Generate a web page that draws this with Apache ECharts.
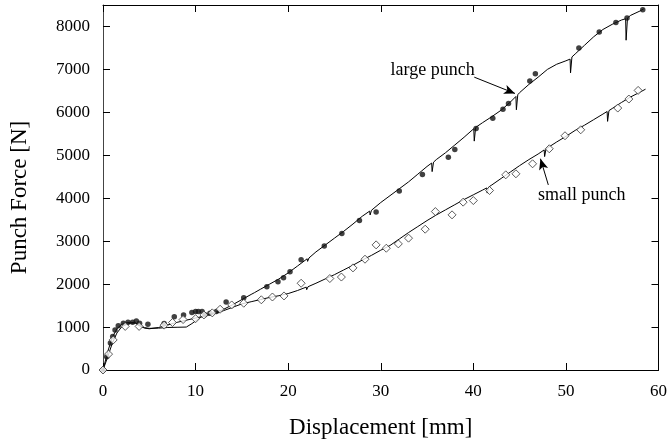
<!DOCTYPE html>
<html>
<head>
<meta charset="utf-8">
<script src="https://cdn.jsdelivr.net/npm/echarts@6/dist/echarts.min.js"></script>
<style>
    html, body { margin: 0; padding: 0; background: #fff; }
    #chart { width: 670px; height: 445px; }
</style>
</head>
<body>
<div id="chart"></div>
<script>
// measured points (test), [displacement mm, force N]
const largeTest = [
    [0, 0], [0.4, 310], [0.8, 630], [1.05, 780], [1.3, 930], [1.65, 1030], [2.2, 1090], [2.7, 1110],
    [3.2, 1110], [3.6, 1140], [3.95, 1090], [4.85, 1065], [6.6, 1085], [7.7, 1240], [8.7, 1280],
    [9.6, 1340], [10.0, 1360], [10.3, 1360], [10.7, 1360], [11.0, 1285], [11.55, 1320], [12.25, 1360],
    [13.3, 1585], [15.2, 1680], [17.7, 1940], [18.9, 2055], [19.5, 2150], [20.2, 2290], [21.4, 2565],
    [23.9, 2890], [25.8, 3180], [27.7, 3480], [29.5, 3680], [32.0, 4170], [34.5, 4555], [37.3, 4955],
    [38.0, 5135], [40.3, 5625], [42.1, 5860], [43.2, 6070], [43.8, 6205], [46.1, 6730], [46.7, 6900],
    [51.4, 7500], [53.6, 7870], [55.4, 8095], [56.6, 8195], [58.3, 8390]
]

const smallTest = [
    [0, 0], [0.6, 370], [1.1, 700], [2.4, 1015], [3.9, 1015], [6.6, 1045], [7.5, 1105], [8.65, 1175],
    [10.0, 1195], [10.9, 1282], [11.8, 1330], [12.65, 1415], [13.9, 1515], [15.2, 1555], [17.1, 1635],
    [18.3, 1700], [19.55, 1725], [21.4, 2020], [24.5, 2130], [25.75, 2165], [27.0, 2378], [28.3, 2580],
    [29.5, 2914], [30.6, 2836], [31.9, 2937], [33.0, 3070], [34.8, 3279], [35.9, 3690], [37.7, 3613],
    [38.9, 3909], [40.0, 3946], [41.75, 4180], [43.5, 4545], [44.6, 4569], [46.4, 4802], [48.2, 5152],
    [49.9, 5455], [51.6, 5594], [55.6, 6100], [56.8, 6310], [57.8, 6511]
]

// simulation curves
const largeSim = [
    [0, 0], [0.5, 420], [1, 760], [1.5, 960], [2, 1060], [2.5, 1100], [3, 1110], [3.5, 1100], [4, 1030],
    [4.5, 985], [5, 970], [6, 975], [7, 990], [8, 995], [9, 1000], [9.6, 1080], [10.5, 1220], [11, 1280],
    [12, 1330], [13, 1410], [14, 1520], [15, 1640], [16, 1760], [16.35, 1800], [16.4, 1760], [16.55, 1820],
    [17, 1880], [18, 2000], [19, 2120], [20, 2260], [21, 2420], [22.05, 2590], [22.1, 2530], [22.25, 2610],
    [23, 2750], [24, 2910], [25, 3070], [26, 3230], [27, 3400], [28, 3580], [28.8, 3700], [28.85, 3610],
    [29, 3720], [30, 3900], [31, 4060], [32, 4220], [33, 4380], [34, 4560], [35, 4740], [35.5, 4820],
    [35.55, 4620], [35.7, 4840], [36, 4900], [37, 5060], [38, 5240], [39, 5420], [40.05, 5620],
    [40.1, 5330], [40.25, 5650], [41, 5760], [42, 5900], [43, 6050], [44, 6240], [44.6, 6370],
    [44.65, 6060], [44.8, 6410], [45, 6460], [46, 6650], [47, 6820], [48, 7000], [49, 7120], [50, 7200],
    [50.45, 7240], [50.5, 6920], [50.65, 7290], [51, 7360], [52, 7560], [53, 7760], [54, 7930],
    [55, 8050], [56, 8150], [56.45, 8180], [56.5, 7680], [56.65, 8200], [57, 8260], [58, 8360], [58.4, 8410]
]

const smallSim = [
    [0, 0], [0.5, 300], [1, 620], [1.5, 860], [2, 1000], [2.5, 1060], [3, 1090], [3.5, 1090], [4, 1020],
    [4.5, 975], [5, 960], [6, 990], [7, 1050], [8, 1110], [9, 1160], [10, 1210], [11, 1260], [12, 1310],
    [13, 1380], [14, 1460], [15, 1540], [16, 1590], [17, 1640], [18, 1690], [19, 1730], [20, 1780],
    [21, 1850], [21.95, 1930], [22.0, 1870], [22.15, 1940], [23, 2020], [24, 2120], [25, 2220],
    [26, 2330], [27, 2440], [28, 2560], [29, 2670], [30, 2790], [31, 2900], [32, 3050], [33, 3200],
    [34, 3340], [35, 3480], [36, 3610], [37, 3730], [38, 3850], [39, 3970], [40, 4080], [41, 4190],
    [41.45, 4240], [41.5, 4120], [41.65, 4260], [42, 4310], [43, 4460], [44, 4610], [45, 4760],
    [46, 4900], [47, 5030], [47.65, 5125], [47.7, 4970], [47.85, 5150], [48, 5170], [49, 5310],
    [50, 5440], [51, 5580], [52, 5700], [53, 5830], [54, 5960], [54.45, 6020], [54.5, 5790],
    [54.65, 6040], [55, 6090], [56, 6230], [57, 6360], [58, 6470], [58.6, 6540]
]

// annotation anchors in data units
const largeLabelAt = [35.6, 6990]
const largeArrow = [[40.1, 6820], [44.5, 6440]]
const smallLabelAt = [51.7, 4060]
const smallArrow = [[48.1, 4310], [47.25, 4920]]

const serif = '"Liberation Serif", "DejaVu Serif", serif'

const chart = echarts.init(document.getElementById('chart'))

function annotation(text, at, arrow) {
    return {
        markPoint: {
            silent: true,
            symbol: 'circle',
            symbolSize: 0,
            label: {
                show: true,
                position: 'inside',
                formatter: text,
                fontFamily: serif,
                fontSize: 18,
                color: '#000'
            },
            data: [{ coord: at }]
        },
        markLine: {
            silent: true,
            symbol: ['none', 'arrow'],
            symbolSize: [7, 11],
            label: { show: false },
            lineStyle: { color: '#000', width: 1, type: 'solid' },
            data: [[{ coord: arrow[0] }, { coord: arrow[1] }]]
        }
    }
}

const axisLabelStyle = { fontFamily: serif, fontSize: 17, color: '#000', formatter: v => String(v) }

const option = {
    animation: false,
    backgroundColor: '#fff',
    grid: { left: 101, right: 6, top: 5, bottom: 75 },
    xAxis: [
        {
            type: 'value',
            min: 0,
            max: 60,
            interval: 10,
            name: 'Displacement [mm]',
            nameLocation: 'middle',
            nameGap: 46,
            nameTextStyle: { fontFamily: serif, fontSize: 23, color: '#000' },
            axisLine: { show: true, onZero: false, lineStyle: { color: '#000', width: 1 } },
            axisTick: { inside: true, length: 7, lineStyle: { color: '#000' } },
            axisLabel: Object.assign({ margin: 13 }, axisLabelStyle),
            splitLine: { show: false }
        },
        {
            type: 'value',
            position: 'top',
            min: 0,
            max: 60,
            interval: 10,
            axisLine: { show: true, onZero: false, lineStyle: { color: '#000', width: 1 } },
            axisTick: { inside: true, length: 7, lineStyle: { color: '#000' } },
            axisLabel: { show: false },
            splitLine: { show: false }
        }
    ],
    yAxis: [
        {
            type: 'value',
            min: 0,
            max: 8500,
            interval: 1000,
            name: 'Punch Force [N]',
            nameLocation: 'middle',
            nameGap: 72,
            nameTextStyle: { fontFamily: serif, fontSize: 23, color: '#000', padding: [0, 20, 0, 0] },
            axisLine: { show: true, onZero: false, lineStyle: { color: '#444', width: 1 } },
            axisTick: { inside: true, length: 7, lineStyle: { color: '#000' } },
            axisLabel: Object.assign({ margin: 13, showMaxLabel: false }, axisLabelStyle),
            splitLine: { show: false }
        },
        {
            type: 'value',
            position: 'right',
            min: 0,
            max: 8500,
            interval: 1000,
            axisLine: { show: true, onZero: false, lineStyle: { color: '#000', width: 1 } },
            axisTick: { inside: true, length: 7, lineStyle: { color: '#000' } },
            axisLabel: { show: false },
            splitLine: { show: false }
        }
    ],
    series: [
        Object.assign({
            name: 'large punch (simulation)',
            type: 'line',
            data: largeSim,
            showSymbol: false,
            symbol: 'none',
            lineStyle: { color: '#000', width: 1 },
            z: 2
        }, annotation('large punch', largeLabelAt, largeArrow)),
        Object.assign({
            name: 'small punch (simulation)',
            type: 'line',
            data: smallSim,
            showSymbol: false,
            symbol: 'none',
            lineStyle: { color: '#000', width: 1 },
            z: 2
        }, annotation('small punch', smallLabelAt, smallArrow)),
        {
            name: 'large punch (test)',
            type: 'scatter',
            data: largeTest,
            symbol: 'circle',
            symbolSize: 5.5,
            itemStyle: { color: '#111' },
            z: 3
        },
        {
            name: 'small punch (test)',
            type: 'scatter',
            data: smallTest,
            symbol: 'diamond',
            symbolSize: 8,
            itemStyle: { color: '#fff', borderColor: '#333', borderWidth: 1 },
            z: 3
        }
    ]
}

chart.setOption(option)
</script>
</body>
</html>
